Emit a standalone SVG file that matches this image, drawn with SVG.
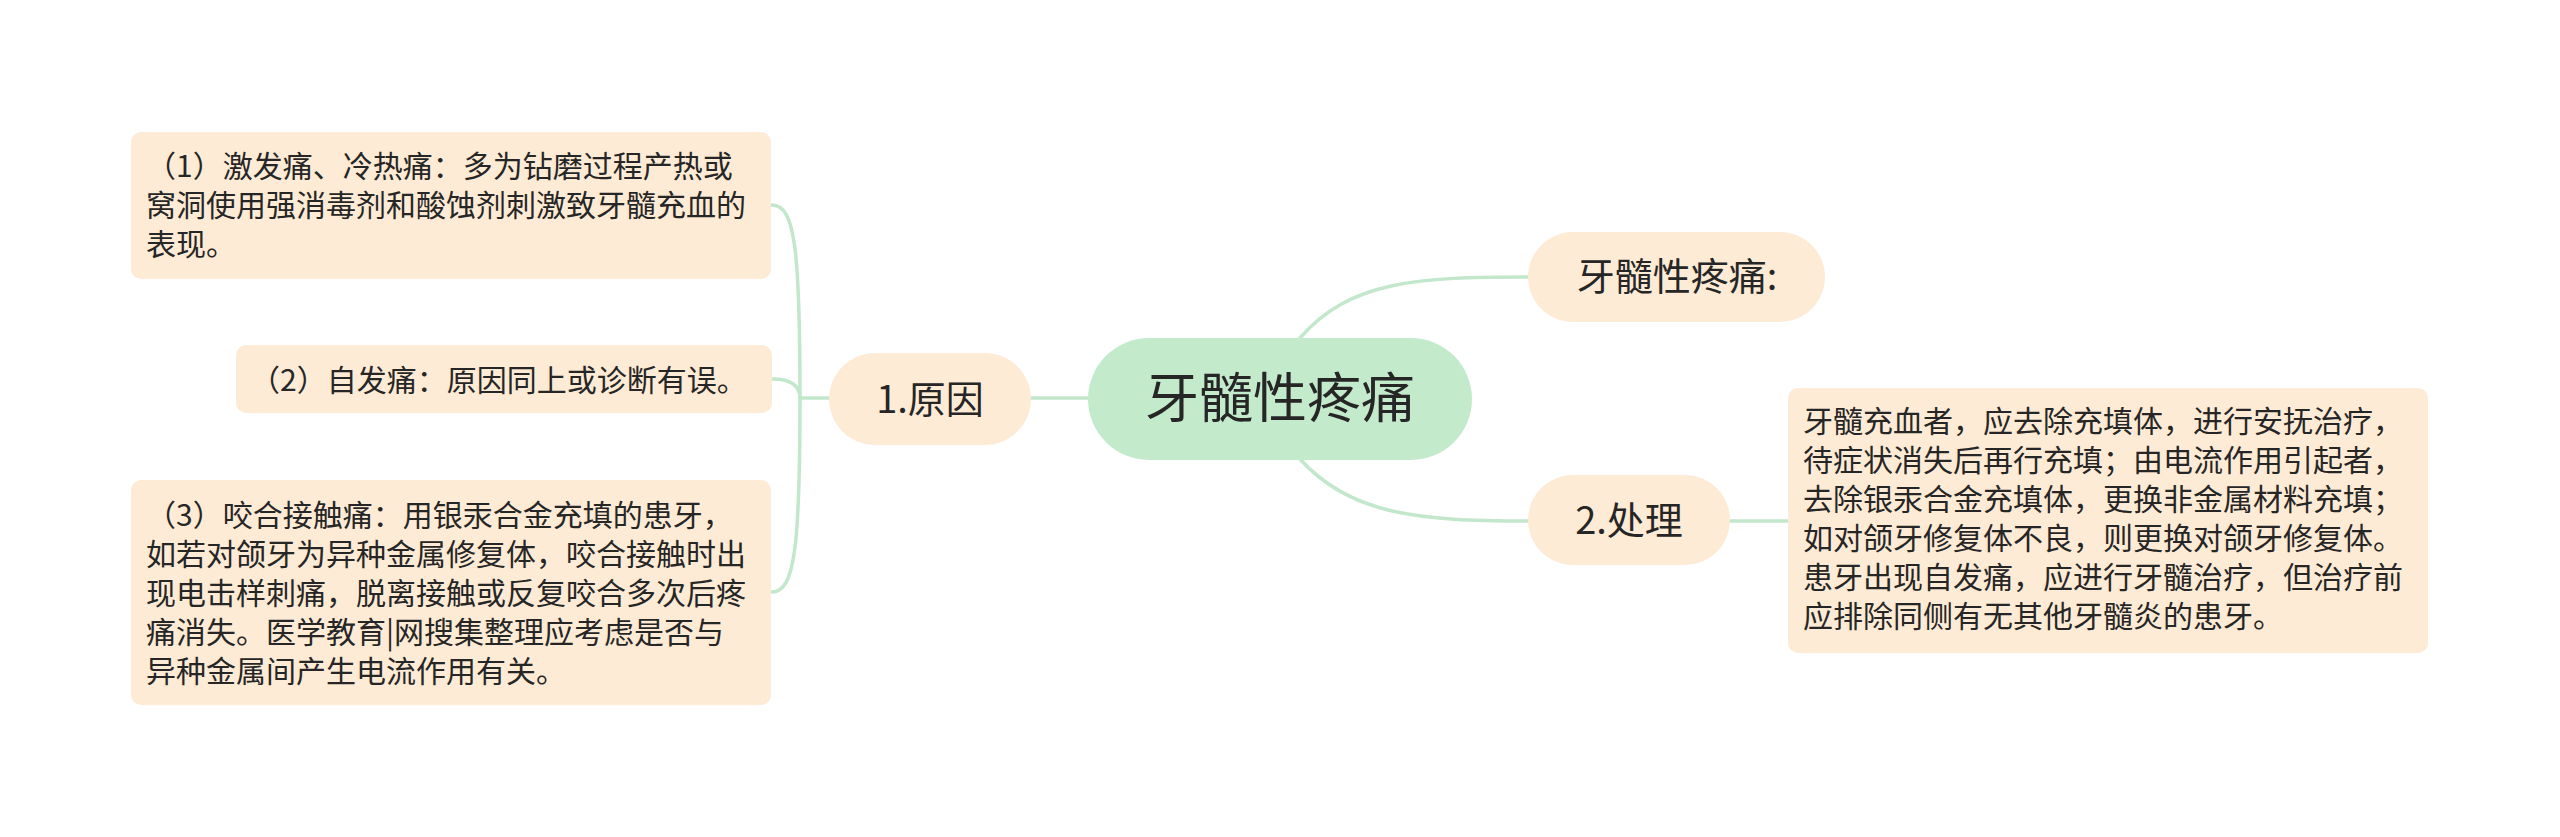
<svg xmlns="http://www.w3.org/2000/svg" width="2560" height="837" viewBox="0 0 2560 837">
<style>
.bg{fill:#ffffff}
.leaf{fill:#feebd5}
.root{fill:#c4eacc}
.t{font-family:"Noto Sans CJK SC","Noto Sans",sans-serif;fill:#262626}
.s{font-size:30px}
.m{font-size:38px;text-anchor:middle}
.l{font-size:54px;text-anchor:middle}
.c{fill:none;stroke:#c2e7cb;stroke-width:3.5;stroke-linecap:round}
</style>
<rect class="bg" x="0" y="0" width="2560" height="837"/>
<g id="connectors">
<path class="c" d="M1031,398 L1088,398"/>
<path class="c" d="M829,398 L800,398"/>
<path class="c" d="M772,205 C795,205 800,250 800,398"/>
<path class="c" d="M772,379 C792,379 800,386 800,398"/>
<path class="c" d="M772,592 C795,592 800,545 800,398"/>
<path class="c" d="M1300,338 C1350,280 1420,277 1528,277"/>
<path class="c" d="M1300,459 C1350,515 1420,521 1528,521"/>
<path class="c" d="M1730,521 L1788,521"/>
</g>
<g id="root">
<rect class="root" x="1088" y="338" width="384" height="122" rx="61"/>
<text class="t l" x="1280" y="418">牙髓性疼痛</text>
</g>
<g id="cause">
<rect class="leaf" x="829" y="353" width="202" height="92" rx="46"/>
<text class="t m" x="930" y="413">1.原因</text>
</g>
<g id="cause1">
<rect class="leaf" x="131" y="132" width="640" height="147" rx="10"/>
<text class="t s" x="146" y="177">（1）激发痛、冷热痛：多为钻磨过程产热或</text>
<text class="t s" x="146" y="216">窝洞使用强消毒剂和酸蚀剂刺激致牙髓充血的</text>
<text class="t s" x="146" y="255">表现。</text>
</g>
<g id="cause2">
<rect class="leaf" x="236" y="345" width="536" height="68" rx="10"/>
<text class="t s" x="250" y="391">（2）自发痛：原因同上或诊断有误。</text>
</g>
<g id="cause3">
<rect class="leaf" x="131" y="480" width="640" height="225" rx="10"/>
<text class="t s" x="146" y="526">（3）咬合接触痛：用银汞合金充填的患牙，</text>
<text class="t s" x="146" y="565">如若对颌牙为异种金属修复体，咬合接触时出</text>
<text class="t s" x="146" y="604">现电击样刺痛，脱离接触或反复咬合多次后疼</text>
<text class="t s" x="146" y="643">痛消失。医学教育|网搜集整理应考虑是否与</text>
<text class="t s" x="146" y="682">异种金属间产生电流作用有关。</text>
</g>
<g id="pain">
<rect class="leaf" x="1528" y="232" width="297" height="90" rx="45"/>
<text class="t m" x="1677" y="290">牙髓性疼痛:</text>
</g>
<g id="treat">
<rect class="leaf" x="1528" y="475" width="202" height="90" rx="45"/>
<text class="t m" x="1629" y="534">2.处理</text>
</g>
<g id="treat1">
<rect class="leaf" x="1788" y="388" width="640" height="265" rx="10"/>
<text class="t s" x="1803" y="432">牙髓充血者，应去除充填体，进行安抚治疗，</text>
<text class="t s" x="1803" y="471">待症状消失后再行充填；由电流作用引起者，</text>
<text class="t s" x="1803" y="510">去除银汞合金充填体，更换非金属材料充填；</text>
<text class="t s" x="1803" y="549">如对颌牙修复体不良，则更换对颌牙修复体。</text>
<text class="t s" x="1803" y="588">患牙出现自发痛，应进行牙髓治疗，但治疗前</text>
<text class="t s" x="1803" y="627">应排除同侧有无其他牙髓炎的患牙。</text>
</g>
</svg>
